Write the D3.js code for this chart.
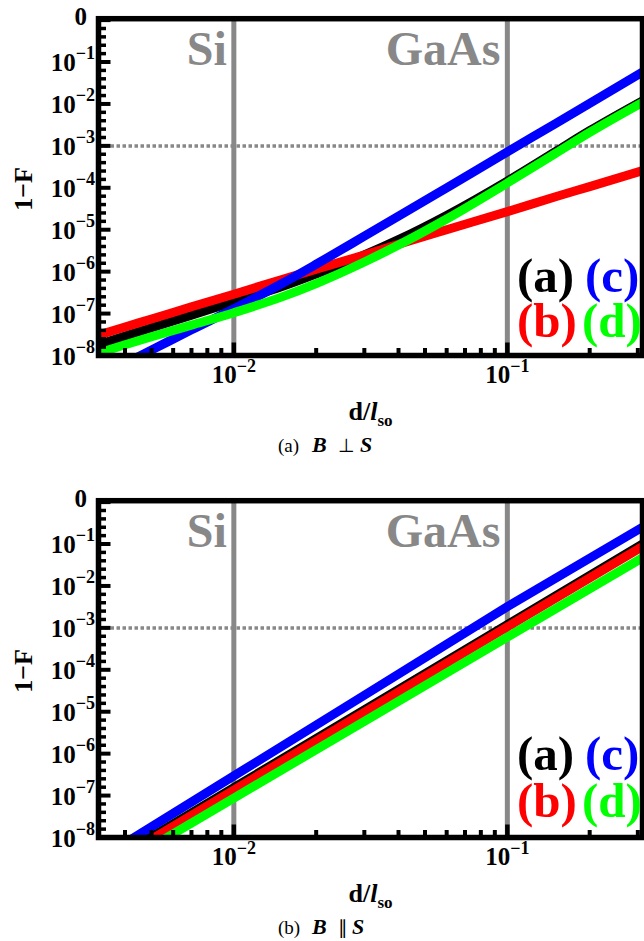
<!DOCTYPE html>
<html>
<head>
<meta charset="utf-8">
<script src="https://cdn.jsdelivr.net/npm/d3@7"></script>
<style>
  body { margin: 0; background: #fff; }
  svg { display: block; }
  text { font-family: "Liberation Serif", "Times New Roman", serif; }
</style>
</head>
<body>
<svg id="chart"></svg>
<script>
// values
let dPerp = [0.003, 0.004, 0.005, 0.007, 0.01, 0.015, 0.02, 0.03, 0.04, 0.06, 0.1, 0.15, 0.2, 0.32]
let perpA = [1.6e-8, 2.9e-8, 4.6e-8, 9.2e-8, 1.9e-7, 4.4e-7, 8.8e-7, 2.5e-6, 5.8e-6, 2.2e-5, 1.45e-4, 7.3e-4, 2.3e-3, 1.3e-2]
let perpB = [2.7e-8, 4.8e-8, 7.4e-8, 1.45e-7, 2.9e-7, 6.5e-7, 1.14e-6, 2.5e-6, 4.5e-6, 1.0e-5, 2.7e-5, 6.1e-5, 1.07e-4, 2.7e-4]
let perpC = [2.5e-9, 6.5e-9, 1.35e-8, 4.1e-8, 1.3e-7, 5.2e-7, 1.5e-6, 7.0e-6, 2.1e-5, 1.0e-4, 7.2e-4, 3.4e-3, 1.03e-2, 6.4e-2]
let perpD = [1.0e-8, 1.8e-8, 2.8e-8, 5.3e-8, 1.05e-7, 2.5e-7, 5.2e-7, 1.7e-6, 4.3e-6, 1.8e-5, 1.3e-4, 6.6e-4, 2.1e-3, 1.2e-2]

let dPar = [0.003, 0.01, 0.03, 0.1, 0.32]
let parA = [1.43e-9, 1.55e-7, 1.11e-5, 1.2e-3, 0.111]
let parB = [1.24e-9, 1.35e-7, 9.7e-6, 1.05e-3, 0.096]
let parC = [2.3e-9, 2.95e-7, 2.47e-5, 3.2e-3, 0.278]
let parD = [8.5e-10, 8.7e-8, 5.9e-6, 6.0e-4, 0.052]

let seriesNames = ["(a)", "(b)", "(c)", "(d)"]
let seriesColors = ["#000000", "#ff0000", "#0000ff", "#00ff00"]

let xMajor = [0.01, 0.1]
let xMajorLabels = ["\u22122", "\u22121"]
let xMinor = [0.004, 0.005, 0.006, 0.007, 0.008, 0.009, 0.02, 0.03, 0.04, 0.05, 0.06, 0.07, 0.08, 0.09, 0.2, 0.3]
let yMajorExp = [-8, -7, -6, -5, -4, -3, -2, -1]
let yMinorStep = [0.2, 0.4, 0.6, 0.8]

let materials = [{ name: "Si", d: 0.01 }, { name: "GaAs", d: 0.1 }]
let threshold = 1e-3

let width = 644
let height = 941
let pLeft = 98.5, pRight = 642.5, pTop = 18.7, pBottom = 355.5
let panelShift = 482

let svg = d3.select('#chart').attr('width', width).attr('height', height)

let xScale = d3.scaleLog().domain([0.0032, 0.312]).range([pLeft, pRight])
let yScale = d3.scaleLog().domain([1e-8, 1.08]).range([pBottom, pTop])

let drawPanel = (g, id, dVals, seriesVals, smooth, legendY, captionTag, captionSym) => {
  g.append('clipPath').attr('id', 'clip' + id)
    .append('rect')
    .attr('x', pLeft).attr('y', pTop)
    .attr('width', pRight - pLeft).attr('height', pBottom - pTop)

  // material lines
  materials.forEach(m => {
    g.append('line')
      .attr('x1', xScale(m.d)).attr('x2', xScale(m.d))
      .attr('y1', pTop).attr('y2', pBottom)
      .attr('stroke', '#888').attr('stroke-width', 5)
    g.append('text')
      .attr('x', xScale(m.d) - 7).attr('y', 65)
      .attr('text-anchor', 'end')
      .attr('font-size', 48).attr('font-weight', 'bold')
      .attr('fill', '#888')
      .text(m.name)
  })

  g.append('line')
    .attr('x1', pLeft).attr('x2', pRight)
    .attr('y1', yScale(threshold)).attr('y2', yScale(threshold))
    .attr('stroke', '#888').attr('stroke-width', 3.5)
    .attr('stroke-dasharray', '3.5,2.5')

  // curves
  let line = d3.line()
    .x(p => xScale(p[0]))
    .y(p => yScale(p[1]))
    .curve(smooth ? d3.curveMonotoneX : d3.curveLinear)
  let curves = g.append('g').attr('clip-path', 'url(#clip' + id + ')')
  seriesVals.forEach((vals, i) => {
    curves.append('path')
      .datum(dVals.map((d, k) => [d, vals[k]]))
      .attr('d', line)
      .attr('fill', 'none')
      .attr('stroke', seriesColors[i])
      .attr('stroke-width', 9)
  })

  // ticks
  xMinor.forEach(v => {
    g.append('line')
      .attr('x1', xScale(v)).attr('x2', xScale(v))
      .attr('y1', pBottom).attr('y2', pBottom - 7.5)
      .attr('stroke', '#000').attr('stroke-width', 4)
  })
  xMajor.forEach((v, i) => {
    g.append('line')
      .attr('x1', xScale(v)).attr('x2', xScale(v))
      .attr('y1', pBottom).attr('y2', pBottom - 13)
      .attr('stroke', '#000').attr('stroke-width', 4.5)
    let t = g.append('text')
      .attr('x', xScale(v)).attr('y', 383)
      .attr('text-anchor', 'middle')
      .attr('font-weight', 'bold')
    t.append('tspan').attr('font-size', 25).text('10')
    t.append('tspan').attr('font-size', 18).attr('dy', -11).text(xMajorLabels[i])
  })

  let yMajorAll = yMajorExp.concat([0])
  yMajorAll.forEach(e => {
    let y = yScale(Math.pow(10, e))
    g.append('line')
      .attr('x1', pLeft).attr('x2', pLeft + 12)
      .attr('y1', y).attr('y2', y)
      .attr('stroke', '#000').attr('stroke-width', 4)
    if (e < -0.5) {
      yMinorStep.forEach(s => {
        let ym = yScale(Math.pow(10, e + s))
        g.append('line')
          .attr('x1', pLeft).attr('x2', pLeft + 7.5)
          .attr('y1', ym).attr('y2', ym)
          .attr('stroke', '#000').attr('stroke-width', 3.5)
      })
    }
    let t = g.append('text')
      .attr('y', y + 9)
      .attr('text-anchor', 'end')
      .attr('font-weight', 'bold')
    if (e === 0) {
      t.attr('x', 87).attr('y', pTop + 6.5).attr('font-size', 25).text('0')
    } else {
      t.attr('x', 95)
      t.append('tspan').attr('font-size', 25).text('10')
      t.append('tspan').attr('font-size', 18).attr('dy', -12).text('\u2212' + Math.abs(e))
    }
  })

  // frame
  g.append('rect')
    .attr('x', pLeft).attr('y', pTop)
    .attr('width', pRight - pLeft).attr('height', pBottom - pTop)
    .attr('fill', 'none').attr('stroke', '#000').attr('stroke-width', 5.5)

  // axis titles
  g.append('text')
    .attr('transform', 'translate(32,189) rotate(-90)')
    .attr('text-anchor', 'middle')
    .attr('font-size', 26).attr('font-weight', 'bold')
    .text('1\u2212F')

  let xt = g.append('text')
    .attr('x', (pLeft + pRight) / 2).attr('y', 420)
    .attr('text-anchor', 'middle')
    .attr('font-size', 26).attr('font-weight', 'bold')
  xt.append('tspan').text('d/')
  xt.append('tspan').attr('font-style', 'italic').text('l')
  xt.append('tspan').attr('font-size', 17).attr('dy', 6).text('so')

  // legend
  let legendPos = [[517, legendY[0]], [517, legendY[1]], [585, legendY[0]], [582, legendY[1]]]
  seriesNames.forEach((n, i) => {
    g.append('text')
      .attr('x', legendPos[i][0]).attr('y', legendPos[i][1])
      .attr('font-size', 49).attr('font-weight', 'bold')
      .attr('fill', seriesColors[i])
      .text(n)
  })

  // caption
  let cap = g.append('text').attr('y', 452).attr('font-size', 19)
  cap.append('tspan').attr('x', 278).text(captionTag)
  cap.append('tspan').attr('x', 312).attr('font-size', 22)
    .attr('font-weight', 'bold').attr('font-style', 'italic').text('B')
  cap.append('tspan').attr('x', 338).text(captionSym)
  cap.append('tspan').attr('x', captionSym === '\u22a5' ? 360 : 352).attr('font-size', 22)
    .attr('font-weight', 'bold').attr('font-style', 'italic').text('S')
}

let gA = svg.append('g')
drawPanel(gA, 'A', dPerp, [perpA, perpB, perpC, perpD], true, [292, 337], '(a)', '\u22a5')

let gB = svg.append('g').attr('transform', 'translate(0,' + panelShift + ')')
drawPanel(gB, 'B', dPar, [parA, parB, parC, parD], false, [288, 335], '(b)', '\u2225')
</script>
</body>
</html>
